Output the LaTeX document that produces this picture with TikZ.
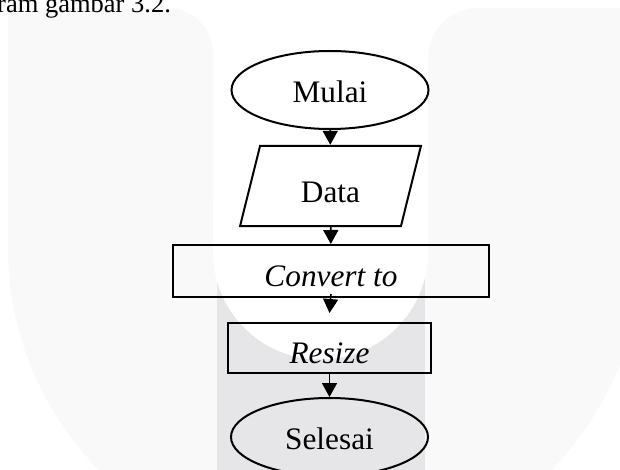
\documentclass[tikz,border=0pt]{standalone}
\usepackage{fontspec}
\setmainfont{Liberation Serif}
\usetikzlibrary{shapes.geometric,arrows.meta}
\definecolor{wmhell}{HTML}{F9F9F9}
\definecolor{wmgrau}{HTML}{E6E6E8}
\tikzset{
  ablauf/.style={draw, line width=2pt, inner sep=0pt, text depth=0pt,
    font=\fontsize{31.3}{36}\selectfont},
  terminal/.style={ablauf, ellipse, minimum width=197pt, minimum height=78pt, text height=24.7pt},
  prozess/.style={ablauf, rectangle, text height=30.7pt},
  eingabe/.style={ablauf, trapezium, trapezium left angle=76, trapezium right angle=104,
    minimum width=181pt, minimum height=66pt, text height=33.7pt},
  pfeil/.style={line width=1.6pt, -{Triangle[length=14pt,width=15pt]}}
}
\begin{document}
\begin{tikzpicture}[x=1pt,y=-1pt]
        \useasboundingbox (0,0) rectangle (620,470);
        \clip (0,0) rectangle (620,470);

        % Wasserzeichen
        \fill[wmhell] (8,8) [rounded corners=45pt] -- (213,8) -- (213,150) [sharp corners]
            -- (213,252) arc[start angle=180, end angle=0, radius=107.5]
            [rounded corners=50pt] -- (428,8) [sharp corners] -- (642,8) -- (642,248)
            arc[start angle=0, end angle=180, radius=317] -- cycle;
        \fill[wmgrau] (217,240) rectangle (425,470);
        \fill[white] (213,200) -- (213,252) arc[start angle=180, end angle=0, radius=107.5]
            -- (428,200) -- cycle;

        % Fliesstext oben
        \node[anchor=base west, inner sep=0pt, font=\fontsize{26.5}{30}\selectfont] (fliesstext)
            at (-3,12.7) {ram gambar 3.2.};

        % Ablauf
        \node[terminal] (mulai) at (330,90) {Mulai};
        \node[eingabe] (data) at (330.5,186) {Data};
        \node[prozess, minimum width=316pt, minimum height=52pt] (convert) at (331,271) {\itshape Convert to};
        \node[prozess, minimum width=203pt, minimum height=50pt] (resize) at (329.5,348) {\itshape Resize};
        \node[terminal] (selesai) at (329.5,437) {Selesai};

        % Pfeile
        \draw[pfeil] (mulai) -- (data);
        \draw[pfeil] (data) -- (convert);
        \draw[pfeil] ([yshift=4pt]convert.south) -- ([yshift=9pt]resize.north);
        \draw[pfeil] (resize) -- (selesai);

    \end{tikzpicture}
\end{document}
